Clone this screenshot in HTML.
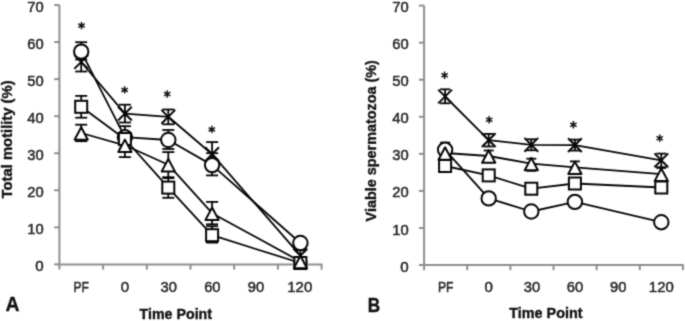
<!DOCTYPE html>
<html><head><meta charset="utf-8"><style>
html,body{margin:0;padding:0;background:#fff;width:685px;height:321px;overflow:hidden}
svg{display:block}
#w{transform:translateZ(0);will-change:transform}
.t{font-family:"Liberation Sans",sans-serif;font-size:15.4px;fill:#262626;stroke:#262626;stroke-width:0.5px}
.b{font-family:"Liberation Sans",sans-serif;font-size:14.2px;font-weight:bold;fill:#111;stroke:#111;stroke-width:0.35px}
</style></head><body>
<div id="w"><svg width="685" height="321" viewBox="0 0 685 321">
<defs><filter id="soft" filterUnits="userSpaceOnUse" x="0" y="0" width="685" height="321" color-interpolation-filters="sRGB"><feConvolveMatrix order="3" kernelMatrix="1 4 1 4 16 4 1 4 1" edgeMode="duplicate"/></filter></defs>
<g filter="url(#soft)">
<rect width="685" height="321" fill="#fff"/>
<line x1="59.40" y1="5.00" x2="59.40" y2="265.15" stroke="#8e8e8e" stroke-width="2.0" />
<line x1="58.65" y1="264.40" x2="322.35" y2="264.40" stroke="#8e8e8e" stroke-width="2.0" />
<line x1="54.20" y1="264.40" x2="59.40" y2="264.40" stroke="#8e8e8e" stroke-width="2.0" />
<line x1="54.20" y1="227.34" x2="59.40" y2="227.34" stroke="#8e8e8e" stroke-width="2.0" />
<line x1="54.20" y1="190.29" x2="59.40" y2="190.29" stroke="#8e8e8e" stroke-width="2.0" />
<line x1="54.20" y1="153.23" x2="59.40" y2="153.23" stroke="#8e8e8e" stroke-width="2.0" />
<line x1="54.20" y1="116.17" x2="59.40" y2="116.17" stroke="#8e8e8e" stroke-width="2.0" />
<line x1="54.20" y1="79.11" x2="59.40" y2="79.11" stroke="#8e8e8e" stroke-width="2.0" />
<line x1="54.20" y1="42.06" x2="59.40" y2="42.06" stroke="#8e8e8e" stroke-width="2.0" />
<line x1="54.20" y1="5.00" x2="59.40" y2="5.00" stroke="#8e8e8e" stroke-width="2.0" />
<line x1="59.40" y1="264.40" x2="59.40" y2="269.60" stroke="#8e8e8e" stroke-width="2.0" />
<line x1="103.10" y1="264.40" x2="103.10" y2="269.60" stroke="#8e8e8e" stroke-width="2.0" />
<line x1="146.80" y1="264.40" x2="146.80" y2="269.60" stroke="#8e8e8e" stroke-width="2.0" />
<line x1="190.50" y1="264.40" x2="190.50" y2="269.60" stroke="#8e8e8e" stroke-width="2.0" />
<line x1="234.20" y1="264.40" x2="234.20" y2="269.60" stroke="#8e8e8e" stroke-width="2.0" />
<line x1="277.90" y1="264.40" x2="277.90" y2="269.60" stroke="#8e8e8e" stroke-width="2.0" />
<line x1="321.60" y1="264.40" x2="321.60" y2="269.60" stroke="#8e8e8e" stroke-width="2.0" />
<text x="43.70" y="271.00" text-anchor="end" class="t" textLength="8.4" lengthAdjust="spacingAndGlyphs">0</text>
<text x="43.70" y="233.94" text-anchor="end" class="t" textLength="16.4" lengthAdjust="spacingAndGlyphs">10</text>
<text x="43.70" y="196.89" text-anchor="end" class="t" textLength="16.4" lengthAdjust="spacingAndGlyphs">20</text>
<text x="43.70" y="159.83" text-anchor="end" class="t" textLength="16.4" lengthAdjust="spacingAndGlyphs">30</text>
<text x="43.70" y="122.77" text-anchor="end" class="t" textLength="16.4" lengthAdjust="spacingAndGlyphs">40</text>
<text x="43.70" y="85.71" text-anchor="end" class="t" textLength="16.4" lengthAdjust="spacingAndGlyphs">50</text>
<text x="43.70" y="48.66" text-anchor="end" class="t" textLength="16.4" lengthAdjust="spacingAndGlyphs">60</text>
<text x="43.70" y="11.60" text-anchor="end" class="t" textLength="16.4" lengthAdjust="spacingAndGlyphs">70</text>
<text x="81.25" y="291.90" text-anchor="middle" class="t" textLength="15.4" lengthAdjust="spacingAndGlyphs">PF</text>
<text x="124.95" y="291.90" text-anchor="middle" class="t" textLength="8.4" lengthAdjust="spacingAndGlyphs">0</text>
<text x="168.65" y="291.90" text-anchor="middle" class="t" textLength="16.4" lengthAdjust="spacingAndGlyphs">30</text>
<text x="212.35" y="291.90" text-anchor="middle" class="t" textLength="16.4" lengthAdjust="spacingAndGlyphs">60</text>
<text x="256.05" y="291.90" text-anchor="middle" class="t" textLength="16.4" lengthAdjust="spacingAndGlyphs">90</text>
<text x="299.75" y="291.90" text-anchor="middle" class="t" textLength="25.0" lengthAdjust="spacingAndGlyphs">120</text>
<polyline points="81.20,62.00 124.90,113.60 168.30,116.80 212.10,154.20 300.40,255.60" fill="none" stroke="#050505" stroke-width="1.8" stroke-linejoin="round"/>
<polyline points="81.20,51.60 124.90,137.20 168.30,140.00 212.10,165.10 300.40,243.00" fill="none" stroke="#050505" stroke-width="1.8" stroke-linejoin="round"/>
<polyline points="81.20,106.80 124.90,139.00 168.30,187.60 212.10,235.20 300.40,263.00" fill="none" stroke="#050505" stroke-width="1.8" stroke-linejoin="round"/>
<polyline points="81.20,133.00 124.90,145.30 168.30,164.70 212.10,213.20 300.40,261.50" fill="none" stroke="#050505" stroke-width="1.8" stroke-linejoin="round"/>
<line x1="81.20" y1="53.50" x2="81.20" y2="71.50" stroke="#050505" stroke-width="1.8" />
<line x1="75.20" y1="53.50" x2="87.20" y2="53.50" stroke="#050505" stroke-width="1.8" />
<line x1="75.20" y1="71.50" x2="87.20" y2="71.50" stroke="#050505" stroke-width="1.8" />
<line x1="124.90" y1="104.70" x2="124.90" y2="122.50" stroke="#050505" stroke-width="1.8" />
<line x1="118.90" y1="104.70" x2="130.90" y2="104.70" stroke="#050505" stroke-width="1.8" />
<line x1="118.90" y1="122.50" x2="130.90" y2="122.50" stroke="#050505" stroke-width="1.8" />
<line x1="168.30" y1="109.50" x2="168.30" y2="124.30" stroke="#050505" stroke-width="1.8" />
<line x1="162.30" y1="109.50" x2="174.30" y2="109.50" stroke="#050505" stroke-width="1.8" />
<line x1="162.30" y1="124.30" x2="174.30" y2="124.30" stroke="#050505" stroke-width="1.8" />
<line x1="212.10" y1="142.10" x2="212.10" y2="165.00" stroke="#050505" stroke-width="1.8" />
<line x1="206.10" y1="142.10" x2="218.10" y2="142.10" stroke="#050505" stroke-width="1.8" />
<line x1="206.10" y1="165.00" x2="218.10" y2="165.00" stroke="#050505" stroke-width="1.8" />
<line x1="300.40" y1="250.20" x2="300.40" y2="260.50" stroke="#050505" stroke-width="1.8" />
<line x1="294.40" y1="250.20" x2="306.40" y2="250.20" stroke="#050505" stroke-width="1.8" />
<line x1="294.40" y1="260.50" x2="306.40" y2="260.50" stroke="#050505" stroke-width="1.8" />
<line x1="81.20" y1="42.20" x2="81.20" y2="59.50" stroke="#050505" stroke-width="1.8" />
<line x1="75.20" y1="42.20" x2="87.20" y2="42.20" stroke="#050505" stroke-width="1.8" />
<line x1="75.20" y1="59.50" x2="87.20" y2="59.50" stroke="#050505" stroke-width="1.8" />
<line x1="124.90" y1="126.20" x2="124.90" y2="148.20" stroke="#050505" stroke-width="1.8" />
<line x1="118.90" y1="126.20" x2="130.90" y2="126.20" stroke="#050505" stroke-width="1.8" />
<line x1="118.90" y1="148.20" x2="130.90" y2="148.20" stroke="#050505" stroke-width="1.8" />
<line x1="168.30" y1="130.00" x2="168.30" y2="149.00" stroke="#050505" stroke-width="1.8" />
<line x1="162.30" y1="130.00" x2="174.30" y2="130.00" stroke="#050505" stroke-width="1.8" />
<line x1="162.30" y1="149.00" x2="174.30" y2="149.00" stroke="#050505" stroke-width="1.8" />
<line x1="212.10" y1="153.20" x2="212.10" y2="175.40" stroke="#050505" stroke-width="1.8" />
<line x1="206.10" y1="153.20" x2="218.10" y2="153.20" stroke="#050505" stroke-width="1.8" />
<line x1="206.10" y1="175.40" x2="218.10" y2="175.40" stroke="#050505" stroke-width="1.8" />
<line x1="81.20" y1="95.90" x2="81.20" y2="117.70" stroke="#050505" stroke-width="1.8" />
<line x1="75.20" y1="95.90" x2="87.20" y2="95.90" stroke="#050505" stroke-width="1.8" />
<line x1="75.20" y1="117.70" x2="87.20" y2="117.70" stroke="#050505" stroke-width="1.8" />
<line x1="124.90" y1="133.00" x2="124.90" y2="145.00" stroke="#050505" stroke-width="1.8" />
<line x1="118.90" y1="133.00" x2="130.90" y2="133.00" stroke="#050505" stroke-width="1.8" />
<line x1="118.90" y1="145.00" x2="130.90" y2="145.00" stroke="#050505" stroke-width="1.8" />
<line x1="168.30" y1="178.10" x2="168.30" y2="197.80" stroke="#050505" stroke-width="1.8" />
<line x1="162.30" y1="178.10" x2="174.30" y2="178.10" stroke="#050505" stroke-width="1.8" />
<line x1="162.30" y1="197.80" x2="174.30" y2="197.80" stroke="#050505" stroke-width="1.8" />
<line x1="212.10" y1="226.20" x2="212.10" y2="242.60" stroke="#050505" stroke-width="1.8" />
<line x1="206.10" y1="226.20" x2="218.10" y2="226.20" stroke="#050505" stroke-width="1.8" />
<line x1="206.10" y1="242.60" x2="218.10" y2="242.60" stroke="#050505" stroke-width="1.8" />
<line x1="81.20" y1="124.70" x2="81.20" y2="141.20" stroke="#050505" stroke-width="1.8" />
<line x1="75.20" y1="124.70" x2="87.20" y2="124.70" stroke="#050505" stroke-width="1.8" />
<line x1="75.20" y1="141.20" x2="87.20" y2="141.20" stroke="#050505" stroke-width="1.8" />
<line x1="124.90" y1="133.50" x2="124.90" y2="157.10" stroke="#050505" stroke-width="1.8" />
<line x1="118.90" y1="133.50" x2="130.90" y2="133.50" stroke="#050505" stroke-width="1.8" />
<line x1="118.90" y1="157.10" x2="130.90" y2="157.10" stroke="#050505" stroke-width="1.8" />
<line x1="168.30" y1="152.10" x2="168.30" y2="177.20" stroke="#050505" stroke-width="1.8" />
<line x1="162.30" y1="152.10" x2="174.30" y2="152.10" stroke="#050505" stroke-width="1.8" />
<line x1="162.30" y1="177.20" x2="174.30" y2="177.20" stroke="#050505" stroke-width="1.8" />
<line x1="212.10" y1="201.90" x2="212.10" y2="224.30" stroke="#050505" stroke-width="1.8" />
<line x1="206.10" y1="201.90" x2="218.10" y2="201.90" stroke="#050505" stroke-width="1.8" />
<line x1="206.10" y1="224.30" x2="218.10" y2="224.30" stroke="#050505" stroke-width="1.8" />
<path d="M74.30,55.10 L88.10,68.90 M88.10,55.10 L74.30,68.90" fill="none" stroke="#050505" stroke-width="2.0"/>
<path d="M118.00,106.70 L131.80,120.50 M131.80,106.70 L118.00,120.50" fill="none" stroke="#050505" stroke-width="2.0"/>
<path d="M161.40,109.90 L175.20,123.70 M175.20,109.90 L161.40,123.70" fill="none" stroke="#050505" stroke-width="2.0"/>
<path d="M205.20,147.30 L219.00,161.10 M219.00,147.30 L205.20,161.10" fill="none" stroke="#050505" stroke-width="2.0"/>
<path d="M293.50,248.70 L307.30,262.50 M307.30,248.70 L293.50,262.50" fill="none" stroke="#050505" stroke-width="2.0"/>
<circle cx="81.20" cy="51.60" r="7.2" fill="#fff" stroke="#050505" stroke-width="2.0"/>
<circle cx="124.90" cy="137.20" r="7.2" fill="#fff" stroke="#050505" stroke-width="2.0"/>
<circle cx="168.30" cy="140.00" r="7.2" fill="#fff" stroke="#050505" stroke-width="2.0"/>
<circle cx="212.10" cy="165.10" r="7.2" fill="#fff" stroke="#050505" stroke-width="2.0"/>
<circle cx="300.40" cy="243.00" r="7.2" fill="#fff" stroke="#050505" stroke-width="2.0"/>
<rect x="75.20" y="100.80" width="12.0" height="12.0" fill="#fff" stroke="#050505" stroke-width="2.0"/>
<rect x="118.90" y="133.00" width="12.0" height="12.0" fill="#fff" stroke="#050505" stroke-width="2.0"/>
<rect x="162.30" y="181.60" width="12.0" height="12.0" fill="#fff" stroke="#050505" stroke-width="2.0"/>
<rect x="206.10" y="229.20" width="12.0" height="12.0" fill="#fff" stroke="#050505" stroke-width="2.0"/>
<rect x="294.40" y="257.00" width="12.0" height="12.0" fill="#fff" stroke="#050505" stroke-width="2.0"/>
<path d="M81.20,127.30 L87.80,139.70 L74.60,139.70 Z" fill="#fff" stroke="#050505" stroke-width="2.0" stroke-linejoin="round"/>
<path d="M124.90,139.60 L131.50,152.00 L118.30,152.00 Z" fill="#fff" stroke="#050505" stroke-width="2.0" stroke-linejoin="round"/>
<path d="M168.30,159.00 L174.90,171.40 L161.70,171.40 Z" fill="#fff" stroke="#050505" stroke-width="2.0" stroke-linejoin="round"/>
<path d="M212.10,207.50 L218.70,219.90 L205.50,219.90 Z" fill="#fff" stroke="#050505" stroke-width="2.0" stroke-linejoin="round"/>
<path d="M300.40,255.80 L307.00,268.20 L293.80,268.20 Z" fill="#fff" stroke="#050505" stroke-width="2.0" stroke-linejoin="round"/>
<path d="M81.50,21.90 L81.50,29.30 M78.30,23.75 L84.70,27.45 M84.70,23.75 L78.30,27.45 " stroke="#111" stroke-width="1.5" fill="none"/>
<path d="M124.60,86.20 L124.60,93.60 M121.40,88.05 L127.80,91.75 M127.80,88.05 L121.40,91.75 " stroke="#111" stroke-width="1.5" fill="none"/>
<path d="M167.20,90.30 L167.20,97.70 M164.00,92.15 L170.40,95.85 M170.40,92.15 L164.00,95.85 " stroke="#111" stroke-width="1.5" fill="none"/>
<path d="M211.80,125.70 L211.80,133.10 M208.60,127.55 L215.00,131.25 M215.00,127.55 L208.60,131.25 " stroke="#111" stroke-width="1.5" fill="none"/>
<line x1="424.10" y1="5.60" x2="424.10" y2="265.75" stroke="#8e8e8e" stroke-width="2.0" />
<line x1="423.35" y1="265.00" x2="683.65" y2="265.00" stroke="#8e8e8e" stroke-width="2.0" />
<line x1="418.90" y1="265.00" x2="424.10" y2="265.00" stroke="#8e8e8e" stroke-width="2.0" />
<line x1="418.90" y1="227.94" x2="424.10" y2="227.94" stroke="#8e8e8e" stroke-width="2.0" />
<line x1="418.90" y1="190.89" x2="424.10" y2="190.89" stroke="#8e8e8e" stroke-width="2.0" />
<line x1="418.90" y1="153.83" x2="424.10" y2="153.83" stroke="#8e8e8e" stroke-width="2.0" />
<line x1="418.90" y1="116.77" x2="424.10" y2="116.77" stroke="#8e8e8e" stroke-width="2.0" />
<line x1="418.90" y1="79.71" x2="424.10" y2="79.71" stroke="#8e8e8e" stroke-width="2.0" />
<line x1="418.90" y1="42.66" x2="424.10" y2="42.66" stroke="#8e8e8e" stroke-width="2.0" />
<line x1="418.90" y1="5.60" x2="424.10" y2="5.60" stroke="#8e8e8e" stroke-width="2.0" />
<line x1="424.10" y1="265.00" x2="424.10" y2="270.20" stroke="#8e8e8e" stroke-width="2.0" />
<line x1="467.23" y1="265.00" x2="467.23" y2="270.20" stroke="#8e8e8e" stroke-width="2.0" />
<line x1="510.37" y1="265.00" x2="510.37" y2="270.20" stroke="#8e8e8e" stroke-width="2.0" />
<line x1="553.50" y1="265.00" x2="553.50" y2="270.20" stroke="#8e8e8e" stroke-width="2.0" />
<line x1="596.63" y1="265.00" x2="596.63" y2="270.20" stroke="#8e8e8e" stroke-width="2.0" />
<line x1="639.77" y1="265.00" x2="639.77" y2="270.20" stroke="#8e8e8e" stroke-width="2.0" />
<line x1="682.90" y1="265.00" x2="682.90" y2="270.20" stroke="#8e8e8e" stroke-width="2.0" />
<text x="408.60" y="271.60" text-anchor="end" class="t" textLength="8.4" lengthAdjust="spacingAndGlyphs">0</text>
<text x="408.60" y="234.54" text-anchor="end" class="t" textLength="16.4" lengthAdjust="spacingAndGlyphs">10</text>
<text x="408.60" y="197.49" text-anchor="end" class="t" textLength="16.4" lengthAdjust="spacingAndGlyphs">20</text>
<text x="408.60" y="160.43" text-anchor="end" class="t" textLength="16.4" lengthAdjust="spacingAndGlyphs">30</text>
<text x="408.60" y="123.37" text-anchor="end" class="t" textLength="16.4" lengthAdjust="spacingAndGlyphs">40</text>
<text x="408.60" y="86.31" text-anchor="end" class="t" textLength="16.4" lengthAdjust="spacingAndGlyphs">50</text>
<text x="408.60" y="49.26" text-anchor="end" class="t" textLength="16.4" lengthAdjust="spacingAndGlyphs">60</text>
<text x="408.60" y="12.20" text-anchor="end" class="t" textLength="16.4" lengthAdjust="spacingAndGlyphs">70</text>
<text x="445.67" y="292.20" text-anchor="middle" class="t" textLength="15.4" lengthAdjust="spacingAndGlyphs">PF</text>
<text x="488.80" y="292.20" text-anchor="middle" class="t" textLength="8.4" lengthAdjust="spacingAndGlyphs">0</text>
<text x="531.93" y="292.20" text-anchor="middle" class="t" textLength="16.4" lengthAdjust="spacingAndGlyphs">30</text>
<text x="575.07" y="292.20" text-anchor="middle" class="t" textLength="16.4" lengthAdjust="spacingAndGlyphs">60</text>
<text x="618.20" y="292.20" text-anchor="middle" class="t" textLength="16.4" lengthAdjust="spacingAndGlyphs">90</text>
<text x="661.33" y="292.20" text-anchor="middle" class="t" textLength="25.0" lengthAdjust="spacingAndGlyphs">120</text>
<polyline points="445.10,96.50 488.70,140.10 531.30,144.80 574.90,145.10 661.30,160.30" fill="none" stroke="#050505" stroke-width="1.8" stroke-linejoin="round"/>
<polyline points="445.10,149.80 488.70,198.40 531.30,211.50 574.90,201.90 661.30,222.20" fill="none" stroke="#050505" stroke-width="1.8" stroke-linejoin="round"/>
<polyline points="445.10,166.00 488.70,175.40 531.30,188.70 574.90,183.50 661.30,187.50" fill="none" stroke="#050505" stroke-width="1.8" stroke-linejoin="round"/>
<polyline points="445.10,153.00 488.70,156.00 531.30,163.60 574.90,167.30 661.30,174.20" fill="none" stroke="#050505" stroke-width="1.8" stroke-linejoin="round"/>
<line x1="445.10" y1="89.30" x2="445.10" y2="103.30" stroke="#050505" stroke-width="1.8" />
<line x1="440.10" y1="89.30" x2="450.10" y2="89.30" stroke="#050505" stroke-width="1.8" />
<line x1="440.10" y1="103.30" x2="450.10" y2="103.30" stroke="#050505" stroke-width="1.8" />
<line x1="488.70" y1="133.90" x2="488.70" y2="146.50" stroke="#050505" stroke-width="1.8" />
<line x1="483.70" y1="133.90" x2="493.70" y2="133.90" stroke="#050505" stroke-width="1.8" />
<line x1="483.70" y1="146.50" x2="493.70" y2="146.50" stroke="#050505" stroke-width="1.8" />
<line x1="531.30" y1="139.30" x2="531.30" y2="150.30" stroke="#050505" stroke-width="1.8" />
<line x1="526.30" y1="139.30" x2="536.30" y2="139.30" stroke="#050505" stroke-width="1.8" />
<line x1="526.30" y1="150.30" x2="536.30" y2="150.30" stroke="#050505" stroke-width="1.8" />
<line x1="574.90" y1="139.60" x2="574.90" y2="150.60" stroke="#050505" stroke-width="1.8" />
<line x1="569.90" y1="139.60" x2="579.90" y2="139.60" stroke="#050505" stroke-width="1.8" />
<line x1="569.90" y1="150.60" x2="579.90" y2="150.60" stroke="#050505" stroke-width="1.8" />
<line x1="661.30" y1="153.60" x2="661.30" y2="167.20" stroke="#050505" stroke-width="1.8" />
<line x1="656.30" y1="153.60" x2="666.30" y2="153.60" stroke="#050505" stroke-width="1.8" />
<line x1="656.30" y1="167.20" x2="666.30" y2="167.20" stroke="#050505" stroke-width="1.8" />
<line x1="445.10" y1="142.60" x2="445.10" y2="150.00" stroke="#050505" stroke-width="1.8" />
<line x1="440.10" y1="142.60" x2="450.10" y2="142.60" stroke="#050505" stroke-width="1.8" />
<line x1="440.10" y1="150.00" x2="450.10" y2="150.00" stroke="#050505" stroke-width="1.8" />
<line x1="445.10" y1="146.00" x2="445.10" y2="160.00" stroke="#050505" stroke-width="1.8" />
<line x1="440.10" y1="146.00" x2="450.10" y2="146.00" stroke="#050505" stroke-width="1.8" />
<line x1="440.10" y1="160.00" x2="450.10" y2="160.00" stroke="#050505" stroke-width="1.8" />
<line x1="488.70" y1="150.50" x2="488.70" y2="162.00" stroke="#050505" stroke-width="1.8" />
<line x1="483.70" y1="150.50" x2="493.70" y2="150.50" stroke="#050505" stroke-width="1.8" />
<line x1="483.70" y1="162.00" x2="493.70" y2="162.00" stroke="#050505" stroke-width="1.8" />
<line x1="531.30" y1="158.70" x2="531.30" y2="170.80" stroke="#050505" stroke-width="1.8" />
<line x1="526.30" y1="158.70" x2="536.30" y2="158.70" stroke="#050505" stroke-width="1.8" />
<line x1="526.30" y1="170.80" x2="536.30" y2="170.80" stroke="#050505" stroke-width="1.8" />
<line x1="574.90" y1="161.40" x2="574.90" y2="174.10" stroke="#050505" stroke-width="1.8" />
<line x1="569.90" y1="161.40" x2="579.90" y2="161.40" stroke="#050505" stroke-width="1.8" />
<line x1="569.90" y1="174.10" x2="579.90" y2="174.10" stroke="#050505" stroke-width="1.8" />
<line x1="661.30" y1="167.90" x2="661.30" y2="180.50" stroke="#050505" stroke-width="1.8" />
<line x1="656.30" y1="167.90" x2="666.30" y2="167.90" stroke="#050505" stroke-width="1.8" />
<line x1="656.30" y1="180.50" x2="666.30" y2="180.50" stroke="#050505" stroke-width="1.8" />
<path d="M438.20,89.60 L452.00,103.40 M452.00,89.60 L438.20,103.40" fill="none" stroke="#050505" stroke-width="2.0"/>
<path d="M481.80,133.20 L495.60,147.00 M495.60,133.20 L481.80,147.00" fill="none" stroke="#050505" stroke-width="2.0"/>
<path d="M524.40,137.90 L538.20,151.70 M538.20,137.90 L524.40,151.70" fill="none" stroke="#050505" stroke-width="2.0"/>
<path d="M568.00,138.20 L581.80,152.00 M581.80,138.20 L568.00,152.00" fill="none" stroke="#050505" stroke-width="2.0"/>
<path d="M654.40,153.40 L668.20,167.20 M668.20,153.40 L654.40,167.20" fill="none" stroke="#050505" stroke-width="2.0"/>
<circle cx="445.10" cy="149.80" r="7.2" fill="#fff" stroke="#050505" stroke-width="2.0"/>
<circle cx="488.70" cy="198.40" r="7.2" fill="#fff" stroke="#050505" stroke-width="2.0"/>
<circle cx="531.30" cy="211.50" r="7.2" fill="#fff" stroke="#050505" stroke-width="2.0"/>
<circle cx="574.90" cy="201.90" r="7.2" fill="#fff" stroke="#050505" stroke-width="2.0"/>
<circle cx="661.30" cy="222.20" r="7.2" fill="#fff" stroke="#050505" stroke-width="2.0"/>
<rect x="439.10" y="160.00" width="12.0" height="12.0" fill="#fff" stroke="#050505" stroke-width="2.0"/>
<rect x="482.70" y="169.40" width="12.0" height="12.0" fill="#fff" stroke="#050505" stroke-width="2.0"/>
<rect x="525.30" y="182.70" width="12.0" height="12.0" fill="#fff" stroke="#050505" stroke-width="2.0"/>
<rect x="568.90" y="177.50" width="12.0" height="12.0" fill="#fff" stroke="#050505" stroke-width="2.0"/>
<rect x="655.30" y="181.50" width="12.0" height="12.0" fill="#fff" stroke="#050505" stroke-width="2.0"/>
<path d="M445.10,147.30 L451.70,159.70 L438.50,159.70 Z" fill="#fff" stroke="#050505" stroke-width="2.0" stroke-linejoin="round"/>
<path d="M488.70,150.30 L495.30,162.70 L482.10,162.70 Z" fill="#fff" stroke="#050505" stroke-width="2.0" stroke-linejoin="round"/>
<path d="M531.30,157.90 L537.90,170.30 L524.70,170.30 Z" fill="#fff" stroke="#050505" stroke-width="2.0" stroke-linejoin="round"/>
<path d="M574.90,161.60 L581.50,174.00 L568.30,174.00 Z" fill="#fff" stroke="#050505" stroke-width="2.0" stroke-linejoin="round"/>
<path d="M661.30,168.50 L667.90,180.90 L654.70,180.90 Z" fill="#fff" stroke="#050505" stroke-width="2.0" stroke-linejoin="round"/>
<path d="M444.60,71.60 L444.60,79.00 M441.40,73.45 L447.80,77.15 M447.80,73.45 L441.40,77.15 " stroke="#111" stroke-width="1.5" fill="none"/>
<path d="M489.20,116.00 L489.20,123.40 M486.00,117.85 L492.40,121.55 M492.40,117.85 L486.00,121.55 " stroke="#111" stroke-width="1.5" fill="none"/>
<path d="M573.40,121.00 L573.40,128.40 M570.20,122.85 L576.60,126.55 M576.60,122.85 L570.20,126.55 " stroke="#111" stroke-width="1.5" fill="none"/>
<path d="M659.70,134.60 L659.70,142.00 M656.50,136.45 L662.90,140.15 M662.90,136.45 L656.50,140.15 " stroke="#111" stroke-width="1.5" fill="none"/>
<text x="175.8" y="318.5" text-anchor="middle" class="b" textLength="72.5" lengthAdjust="spacingAndGlyphs">Time Point</text>
<text x="545.9" y="318.0" text-anchor="middle" class="b" textLength="73.4" lengthAdjust="spacingAndGlyphs">Time Point</text>
<text x="5.4" y="311.4" class="b" style="font-size:20.5px" textLength="14" lengthAdjust="spacingAndGlyphs">A</text>
<text x="367.8" y="311.6" class="b" style="font-size:19.5px" textLength="12.4" lengthAdjust="spacingAndGlyphs">B</text>
<text transform="translate(12.3,198.4) rotate(-90)" x="0" y="0" class="b" style="font-size:15px" textLength="118.0" lengthAdjust="spacingAndGlyphs">Total motility (%)</text>
<text transform="translate(375.8,221.4) rotate(-90)" x="0" y="0" class="b" style="font-size:15.2px" textLength="161.3" lengthAdjust="spacingAndGlyphs">Viable spermatozoa (%)</text>
</g>
</svg></div>
</body></html>
